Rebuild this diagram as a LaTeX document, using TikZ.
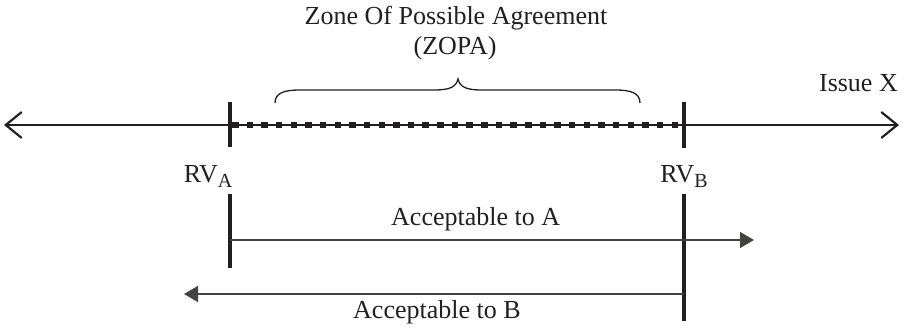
\documentclass[tikz,border=0pt]{standalone}
\usepackage{fontspec}
\setmainfont{Liberation Serif}
\usetikzlibrary{arrows.meta}
\definecolor{ink}{HTML}{231F20}
\newcommand{\mysub}[1]{\raisebox{-5pt}{\fontsize{20}{20}\selectfont #1}}
\begin{document}
\begin{tikzpicture}[x=1pt,y=-1pt,
  lbl/.style={font=\fontsize{26}{30}\selectfont, text=ink, inner sep=0pt, anchor=base},
  axisline/.style={draw=ink, line width=2.2pt},
  barline/.style={draw=ink, line width=4pt},
  zopaline/.style={draw=ink, line width=6.5pt, dash pattern=on 6.5pt off 8.15pt, dash phase=-2pt},
  accline/.style={draw=ink!85, line width=1.3pt, -{Triangle[length=14pt,width=16pt]}},
  bracel/.style={draw=ink, line width=1.3pt}]
\useasboundingbox (0,0) rectangle (907,328);
% coordinates
\coordinate (L) at (4,125);
\coordinate (R) at (899,125);
\coordinate (A) at (230,125);
\coordinate (B) at (684,125);
\coordinate (Atop) at (230,102);
\coordinate (Abot) at (230,147);
\coordinate (Btop) at (684,102);
\coordinate (Bbot) at (684,148);
\coordinate (A2t) at (230,194);
\coordinate (A2b) at (230,268);
\coordinate (B2t) at (684,194);
\coordinate (B2b) at (684,321);
\coordinate (Aarr) at (230,240);
\coordinate (Aend) at (754,240);
\coordinate (Barr) at (684,294);
\coordinate (Bend) at (184,294);
% axis
\draw[axisline, {Straight Barb[length=16pt,width=26pt,line width=2.2pt]}-{Straight Barb[length=16pt,width=26pt,line width=2.2pt]}] (L) -- (R);
\draw[zopaline] (A) -- (B);
% bars
\draw[barline] (Atop) -- (Abot);
\draw[barline] (Btop) -- (Bbot);
\draw[barline] (A2t) -- (A2b);
\draw[barline] (B2t) -- (B2b);
% acceptable arrows
\draw[accline] (Aarr) -- (Aend);
\draw[accline] (Barr) -- (Bend);
% brace
\draw[bracel] (275,103) .. controls (275,93) and (284,90) .. (300,90) -- (434,90)
  .. controls (450,90) and (456,87) .. (458,79)
  .. controls (460,87) and (466,90) .. (482,90) -- (615,90)
  .. controls (631,90) and (640,93) .. (640,103);
% labels
\node[lbl] (title1) at (456,25) {Zone Of Possible Agreement};
\node[lbl] (title2) at (455,55) {(ZOPA)};
\node[lbl, anchor=base east] (issue) at (898,92) {Issue X};
\node[lbl] (rva) at (208,183) {RV\mysub{A}};
\node[lbl] (rvb) at (684,183) {RV\mysub{B}};
\node[lbl, anchor=base west] (acca) at (391,226) {Acceptable to A};
\node[lbl, anchor=base west] (accb) at (353,319) {Acceptable to B};
\end{tikzpicture}
\end{document}
